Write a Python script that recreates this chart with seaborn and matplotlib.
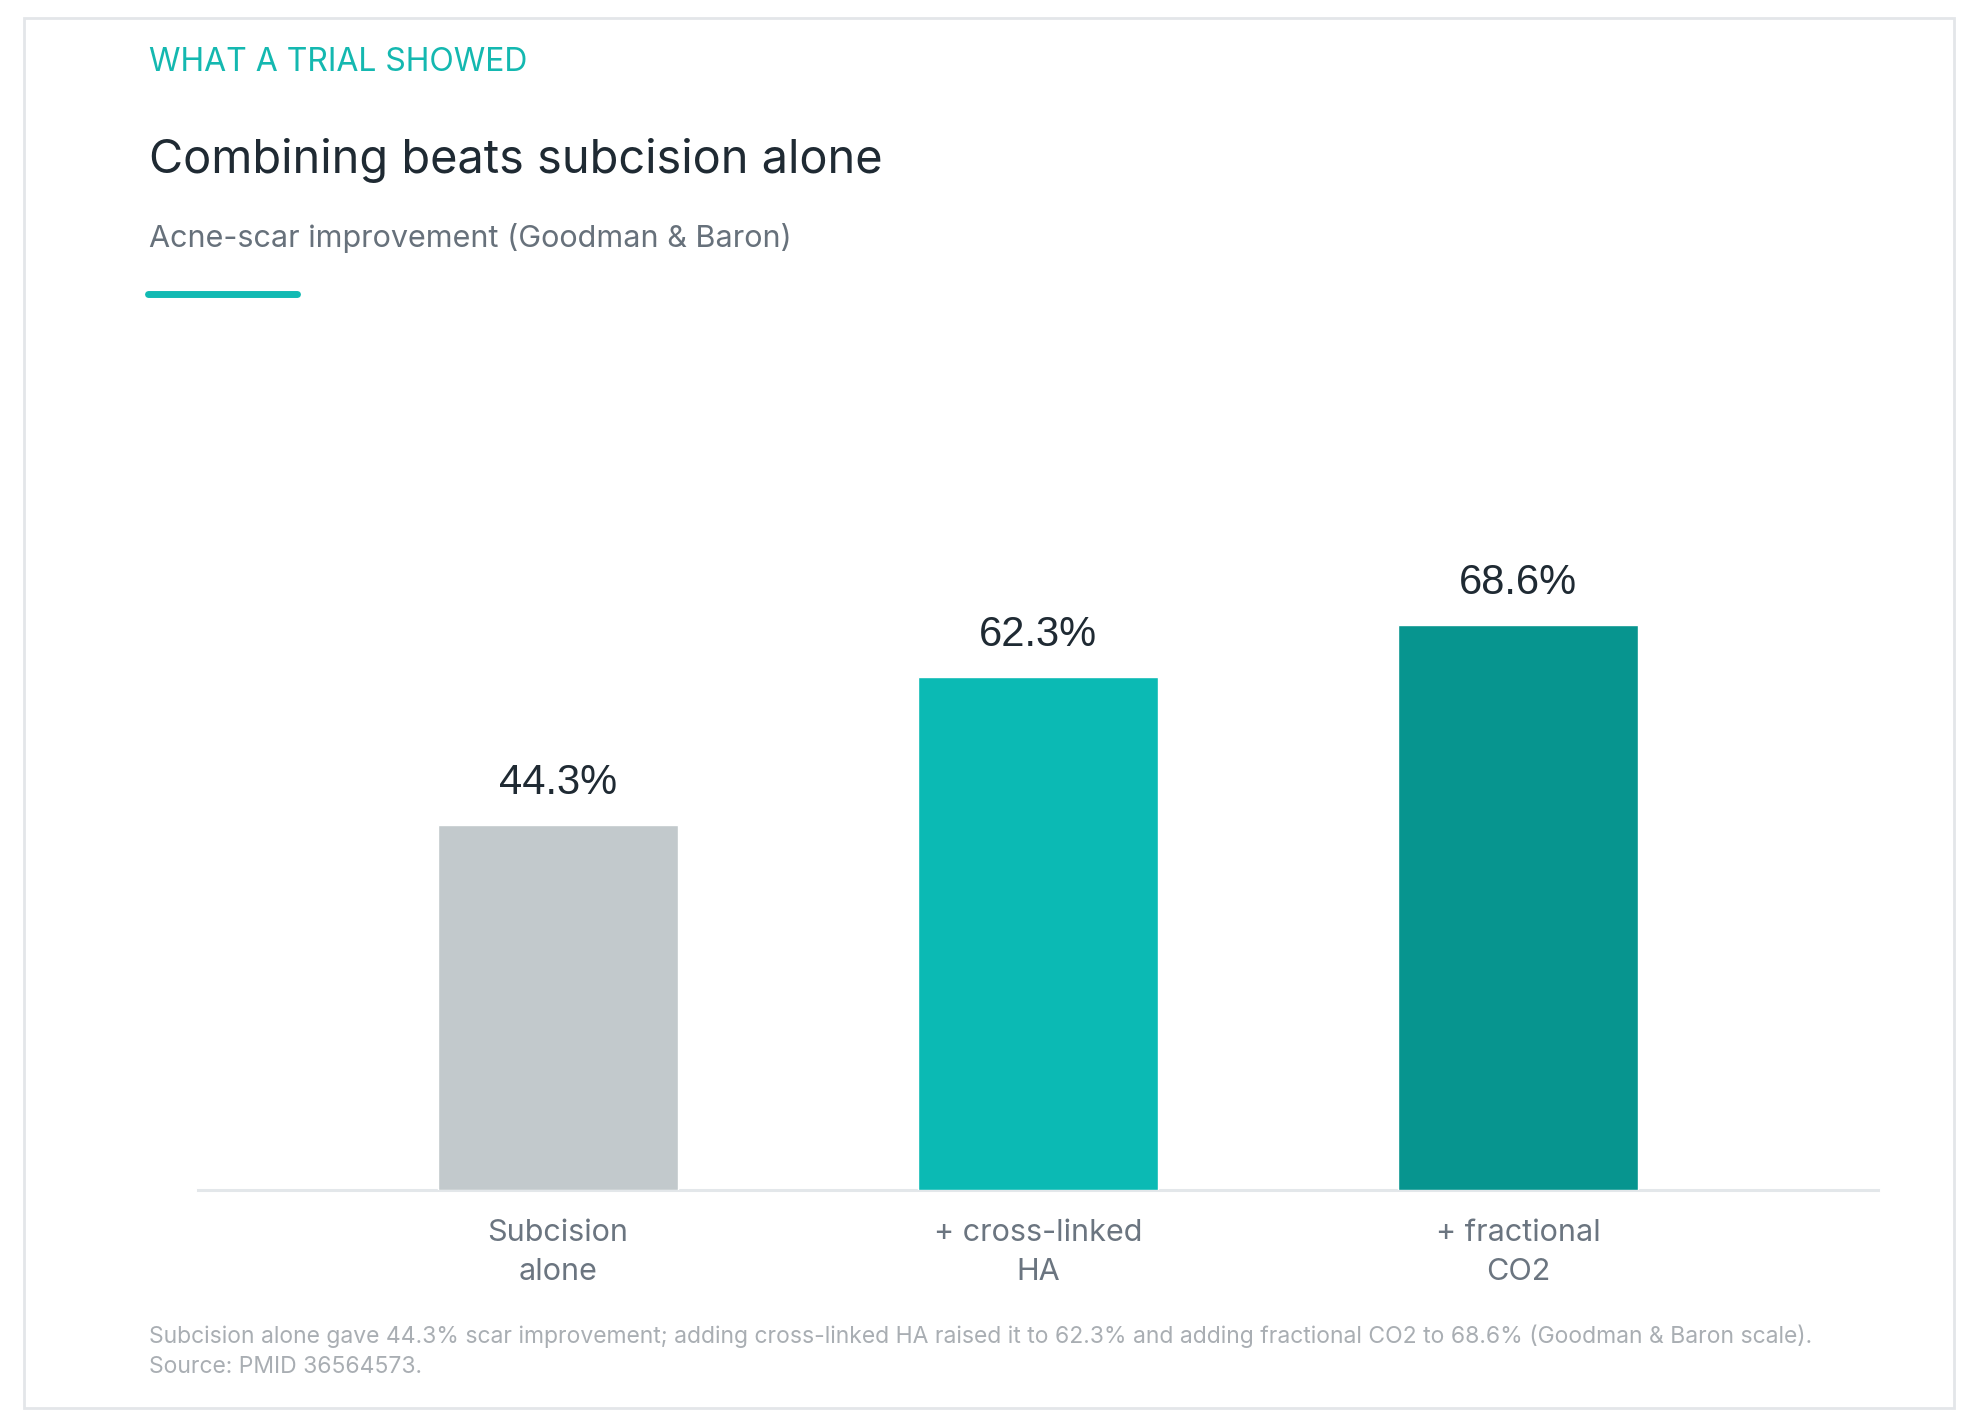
import matplotlib

matplotlib.use("Agg")
import matplotlib.pyplot as plt
import pandas as pd
import seaborn as sns
from matplotlib.lines import Line2D
from matplotlib.patches import Rectangle

# donnees
categories = ["Subcision\nalone", "+ cross-linked\nHA", "+ fractional\nCO2"]
values = [44.3, 62.3, 68.6]
value_labels = ["44.3%", "62.3%", "68.6%"]
bar_colors = ["#c2c9cc", "#0bbab4", "#07958f"]

kicker = "WHAT A TRIAL SHOWED"
title = "Combining beats subcision alone"
subtitle = "Acne-scar improvement (Goodman & Baron)"
note_1 = (
    "Subcision alone gave 44.3% scar improvement; adding cross-linked HA raised it "
    "to 62.3% and adding fractional CO2 to 68.6% (Goodman & Baron scale)."
)
note_2 = "Source: PMID 36564573."

W, H = 1978, 1426
DPI = 100

sns.set_theme(style="white")
plt.rcParams["font.family"] = ["Inter", "DejaVu Sans"]
DIGITS = ["Liberation Sans", "DejaVu Sans"]

fig = plt.figure(figsize=(W / DPI, H / DPI), dpi=DPI)
fig.patch.set_facecolor("white")


def fx(px):
    return px / W


def fy(px):
    return 1 - px / H


# cadre de la carte
fig.patches.append(
    Rectangle(
        (fx(24), fy(1408)),
        fx(1954) - fx(24),
        fy(18) - fy(1408),
        transform=fig.transFigure,
        fill=False,
        edgecolor="#e3e6e9",
        linewidth=2.0,
    )
)

# textes d'en-tete
fig.text(fx(149), fy(71), kicker, fontsize=23, color="#14b8b0", va="baseline")
fig.text(fx(149), fy(173), title, fontsize=33.8, color="#1f2a33", va="baseline")
fig.text(fx(149), fy(247), subtitle, fontsize=22, color="#67717b", va="baseline")
fig.lines.append(
    Line2D(
        [fx(148), fx(297)],
        [fy(293.5), fy(293.5)],
        transform=fig.transFigure,
        color="#12bab3",
        linewidth=5,
        solid_capstyle="round",
    )
)

# graphique
ax = fig.add_axes([fx(198), fy(1190), fx(1878) - fx(198), fy(367) - fy(1190)])
df = pd.DataFrame({"traitement": categories, "amelioration": values})
sns.barplot(
    data=df,
    x="traitement",
    y="amelioration",
    hue="traitement",
    palette=bar_colors,
    width=0.5,
    saturation=1,
    legend=False,
    ax=ax,
    zorder=3,
)
ax.set_xlim(-0.75, 2.75)
ax.set_ylim(0, 100)
ax.set_xlabel("")
ax.set_ylabel("")
ax.set_yticks([])
for s in ["top", "left", "right"]:
    ax.spines[s].set_visible(False)
ax.spines["bottom"].set_color("#e3e7ea")
ax.spines["bottom"].set_linewidth(2.2)
ax.tick_params(axis="x", length=0, pad=21, labelsize=22, labelcolor="#6b7580")
for lab in ax.get_xticklabels():
    lab.set_linespacing(1.47)

for i, (v, txt) in enumerate(zip(values, value_labels)):
    ax.annotate(
        txt,
        (i, v),
        xytext=(0, 22.3),
        textcoords="offset points",
        ha="center",
        va="baseline",
        fontsize=30,
        color="#1f2a33",
        family=DIGITS,
    )

# note de bas
fig.text(fx(149), fy(1343), note_1, fontsize=16.5, color="#a9aeb3", va="baseline")
fig.text(fx(149), fy(1373), note_2, fontsize=16.5, color="#a9aeb3", va="baseline")

fig.savefig("out.png", dpi=DPI, facecolor="white")
plt.close(fig)
